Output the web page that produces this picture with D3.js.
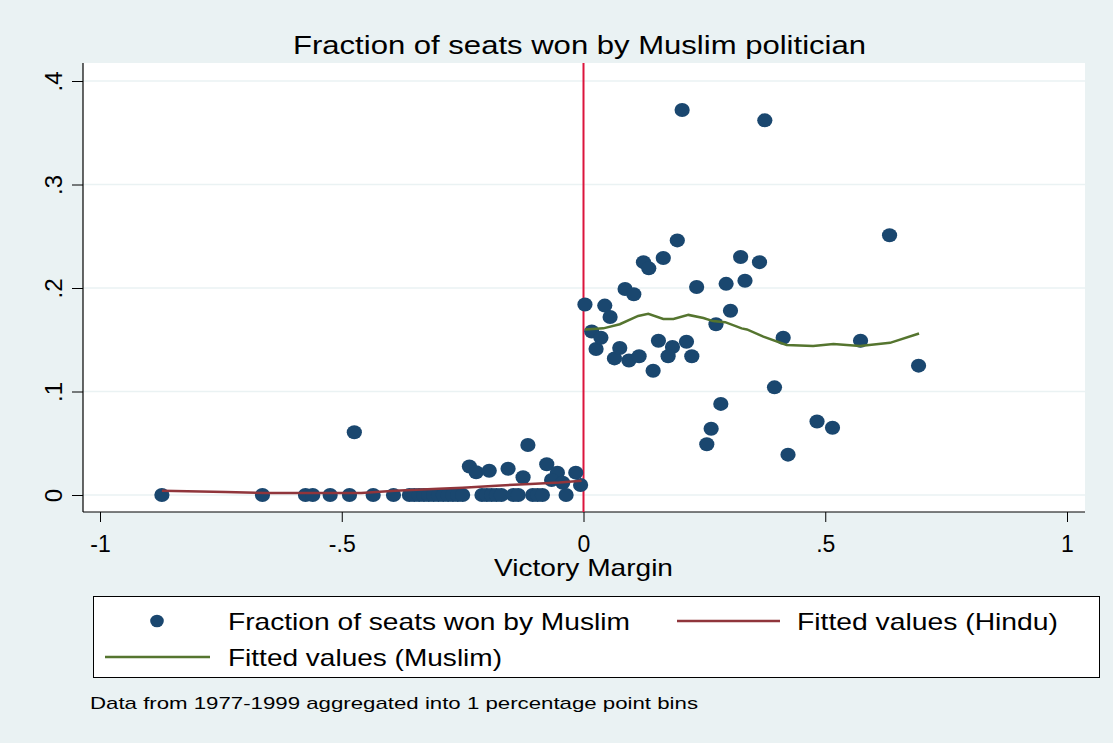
<!DOCTYPE html>
<html>
<head>
<meta charset="utf-8">
<script src="https://cdn.jsdelivr.net/npm/d3@7/dist/d3.min.js"></script>
<style>
  body { margin: 0; background: #eaf2f3; }
  text { font-family: "Liberation Sans", Arial, sans-serif; fill: #000; }
</style>
</head>
<body>
<div id="chart"></div>
<script>
// axis ticks
const xTicks = [-1, -0.5, 0, 0.5, 1];
const xTickLabels = ['-1', '-.5', '0', '.5', '1'];
const yTicks = [0, 0.1, 0.2, 0.3, 0.4];
const yTickLabels = ['0', '.1', '.2', '.3', '.4'];

// bins with zero share (left of cutoff)
const zeroBins = [-0.872, -0.664, -0.575, -0.56, -0.524, -0.484, -0.435, -0.393,
  -0.36, -0.35, -0.34, -0.33, -0.32, -0.31, -0.30, -0.29, -0.28, -0.27, -0.26, -0.25,
  -0.21, -0.20, -0.19, -0.18, -0.17, -0.145, -0.135, -0.105, -0.095, -0.085, -0.036];

// bins with non-zero share
const binX = [-0.474, -0.236, -0.222, -0.195, -0.156, -0.125, -0.115, -0.076, -0.054, -0.066, -0.043, -0.016, -0.006,
  0.003, 0.017, 0.026, 0.044, 0.055, 0.036, 0.064, 0.075, 0.086, 0.104, 0.094, 0.115,
  0.124, 0.135, 0.165, 0.155, 0.144, 0.194, 0.204, 0.184, 0.175, 0.213, 0.224, 0.234,
  0.255, 0.264, 0.274, 0.284, 0.295, 0.304, 0.325, 0.334, 0.364, 0.375, 0.395, 0.413,
  0.423, 0.483, 0.515, 0.573, 0.633, 0.693];
const binShare = [0.0606, 0.0275, 0.022, 0.0235, 0.0253, 0.0171, 0.0483, 0.0297, 0.0216, 0.0145, 0.0119, 0.0216, 0.0097,
  0.184, 0.158, 0.141, 0.183, 0.172, 0.152, 0.132, 0.142, 0.199, 0.194, 0.130, 0.134,
  0.225, 0.219, 0.229, 0.149, 0.120, 0.246, 0.372, 0.143, 0.134, 0.148, 0.134, 0.201,
  0.049, 0.064, 0.165, 0.088, 0.204, 0.178, 0.230, 0.207, 0.225, 0.362, 0.104, 0.152,
  0.039, 0.071, 0.065, 0.149, 0.251, 0.125];

// fitted values
const hinduX = [-0.872, -0.74, -0.66, -0.58, -0.46, -0.39, -0.30, -0.25, -0.18, -0.11, -0.05, -0.004];
const hinduY = [0.004, 0.003, 0.002, 0.002, 0.002, 0.004, 0.006, 0.007, 0.009, 0.0106, 0.012, 0.0138];
const muslimX = [0.003, 0.041, 0.075, 0.113, 0.134, 0.165, 0.186, 0.217, 0.248, 0.268, 0.293, 0.327,
  0.338, 0.372, 0.420, 0.475, 0.517, 0.572, 0.634, 0.694];
const muslimY = [0.160, 0.161, 0.165, 0.173, 0.175, 0.170, 0.170, 0.174, 0.171, 0.168, 0.167, 0.161,
  0.160, 0.153, 0.145, 0.144, 0.146, 0.144, 0.147, 0.156];

const W = 1113, H = 743;
const plot = {left: 83, right: 1085, top: 63, bottom: 512};
const navy = '#1a476f', maroon = '#90353b', olive = '#55752f', crimson = '#dc143c';

const svg = d3.select('#chart').append('svg')
  .attr('width', W).attr('height', H);

svg.append('rect').attr('width', W).attr('height', H).attr('fill', '#eaf2f3');
svg.append('rect')
  .attr('x', plot.left).attr('y', plot.top)
  .attr('width', plot.right - plot.left).attr('height', plot.bottom - plot.top)
  .attr('fill', '#fff');

const xScale = d3.scaleLinear().domain([-1, 1]).range([100, 1067]);
const yScale = d3.scaleLinear().domain([0, 0.4]).range([495, 81]);

// stretch text to the width it has in the picture
function fit(sel, w) {
  sel.attr('textLength', w).attr('lengthAdjust', 'spacingAndGlyphs');
}

/* gridlines */
svg.append('g').selectAll('line')
  .data(yTicks).enter().append('line')
  .attr('x1', plot.left).attr('x2', plot.right)
  .attr('y1', d => yScale(d)).attr('y2', d => yScale(d))
  .attr('stroke', '#eaf2f3').attr('stroke-width', 1.5);

/* axes */
const yAxis = d3.axisLeft(yScale).tickValues(yTicks).tickSize(11).tickFormat((d, i) => yTickLabels[i]);
const gy = svg.append('g').attr('transform', `translate(${plot.left},0)`).call(yAxis);
gy.select('.domain').remove();
gy.selectAll('.tick line').attr('stroke', '#000');
gy.selectAll('.tick text')
  .attr('font-size', 24).attr('font-family', '"Liberation Sans", Arial, sans-serif')
  .attr('x', 0).attr('y', 0).attr('dy', 0)
  .attr('text-anchor', 'middle')
  .attr('transform', 'translate(-21,0) rotate(-90)');
svg.append('line')
  .attr('x1', plot.left).attr('x2', plot.left).attr('y1', plot.top).attr('y2', plot.bottom)
  .attr('stroke', '#000').attr('stroke-width', 1.2);

const xAxis = d3.axisBottom(xScale).tickValues(xTicks).tickSize(10).tickFormat((d, i) => xTickLabels[i]);
const gx = svg.append('g').attr('transform', `translate(0,${plot.bottom})`).call(xAxis);
gx.select('.domain').remove();
gx.selectAll('.tick line').attr('stroke', '#000');
gx.selectAll('.tick text')
  .attr('font-size', 23).attr('font-family', '"Liberation Sans", Arial, sans-serif')
  .attr('y', 40).attr('dy', 0);
svg.append('line')
  .attr('x1', plot.left).attr('x2', plot.right).attr('y1', plot.bottom).attr('y2', plot.bottom)
  .attr('stroke', '#000').attr('stroke-width', 1.2);

/* cutoff */
svg.append('line')
  .attr('x1', xScale(0)).attr('x2', xScale(0))
  .attr('y1', plot.top).attr('y2', plot.bottom)
  .attr('stroke', crimson).attr('stroke-width', 2);

/* scatter */
const pts = zeroBins.map(x => ({x, y: 0}))
  .concat(binX.map((x, i) => ({x, y: binShare[i]})));
svg.append('g').selectAll('ellipse')
  .data(pts).enter().append('ellipse')
  .attr('cx', d => xScale(d.x)).attr('cy', d => yScale(d.y))
  .attr('rx', 7.6).attr('ry', 7)
  .attr('fill', navy);

/* fitted lines */
const line = d3.line().x(d => xScale(d[0])).y(d => yScale(d[1]));
svg.append('path')
  .attr('d', line(hinduX.map((x, i) => [x, hinduY[i]])))
  .attr('fill', 'none').attr('stroke', maroon).attr('stroke-width', 2.5);
svg.append('path')
  .attr('d', line(muslimX.map((x, i) => [x, muslimY[i]])))
  .attr('fill', 'none').attr('stroke', olive).attr('stroke-width', 2.5);

/* titles */
svg.append('text')
  .attr('x', 293).attr('y', 54)
  .attr('font-size', 26)
  .text('Fraction of seats won by Muslim politician')
  .call(fit, 573);

svg.append('text')
  .attr('x', 494).attr('y', 576)
  .attr('font-size', 24)
  .text('Victory Margin')
  .call(fit, 179);

/* legend */
const lg = svg.append('g');
lg.append('rect')
  .attr('x', 93.5).attr('y', 596.5).attr('width', 1006).attr('height', 81)
  .attr('fill', '#fff').attr('stroke', '#000').attr('stroke-width', 1);
lg.append('ellipse').attr('cx', 157).attr('cy', 621).attr('rx', 6.8).attr('ry', 6.3).attr('fill', navy);
lg.append('text').attr('x', 228).attr('y', 630).attr('font-size', 24)
  .text('Fraction of seats won by Muslim').call(fit, 402);
lg.append('line').attr('x1', 677).attr('x2', 780).attr('y1', 621).attr('y2', 621)
  .attr('stroke', maroon).attr('stroke-width', 2.5);
lg.append('text').attr('x', 797).attr('y', 630).attr('font-size', 24)
  .text('Fitted values (Hindu)').call(fit, 261);
lg.append('line').attr('x1', 105).attr('x2', 210).attr('y1', 657).attr('y2', 657)
  .attr('stroke', olive).attr('stroke-width', 2.5);
lg.append('text').attr('x', 228).attr('y', 666).attr('font-size', 24)
  .text('Fitted values (Muslim)').call(fit, 274);

/* note */
svg.append('text')
  .attr('x', 90).attr('y', 709).attr('font-size', 17)
  .text('Data from 1977-1999 aggregated into 1 percentage point bins')
  .call(fit, 608);
</script>
</body>
</html>
